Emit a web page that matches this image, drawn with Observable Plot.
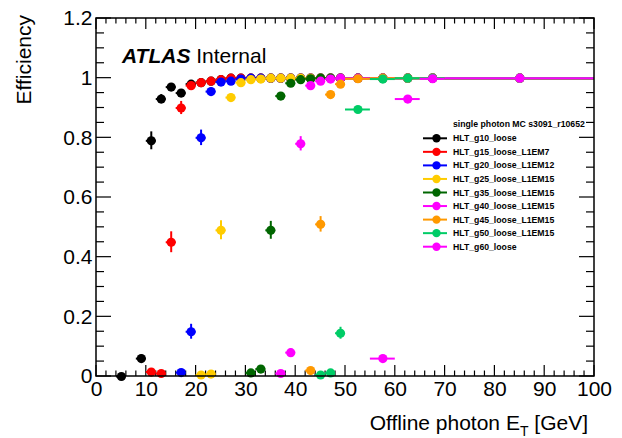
<!DOCTYPE html>
<html><head><meta charset="utf-8">
<script src="https://cdn.jsdelivr.net/npm/d3@7"></script>
<script src="https://cdn.jsdelivr.net/npm/@observablehq/plot@0.6"></script>
<style>
body{margin:0;background:#fff;}
#chart svg{display:block;}
</style></head><body><div id="chart"></div>
<script>
// Bin centres and half-widths (GeV)
const xCenters = [1,3,5,7,9,11,13,15,17,19,21,23,25,27,29,31,33,35,37,39,41,43,45,47,49,52.5,57.5,62.5,67.5,85];
const xHalf = [1,1,1,1,1,1,1,1,1,1,1,1,1,1,1,1,1,1,1,1,1,1,1,1,1,2.5,2.5,2.5,2.5,15];

const names = ["HLT_g10_loose","HLT_g15_loose_L1EM7","HLT_g20_loose_L1EM12","HLT_g25_loose_L1EM15","HLT_g35_loose_L1EM15","HLT_g40_loose_L1EM15","HLT_g45_loose_L1EM15","HLT_g50_loose_L1EM15","HLT_g60_loose"];
const colors = ["#000000","#ff0000","#0000ff","#ffcc00","#006600","#ff00ff","#ff9900","#00cc66","#ff00ff"];
const firstBin = [2,5,8,10,15,18,21,22,26];

const eff_g10 = [0,null,0.06,0.79,0.93,0.97,0.95,0.98,0.985,0.99,0.995,1,1,1,1,1,1,1,1,1,1,1,1,1,1,1,1,1];
const err_g10 = [0.003,null,0.012,0.03,0.015,0.01,0.01,0.006,0.005,0.004,0.003,0,0,0,0,0,0,0,0,0,0,0,0,0,0,0,0,0];
const eff_g15 = [0.015,0.01,0.45,0.90,0.975,0.985,0.99,0.995,1,1,1,1,1,1,1,1,1,1,1,1,1,1,1,1,1];
const err_g15 = [0.005,0.004,0.035,0.022,0.01,0.007,0.005,0.003,0,0,0,0,0,0,0,0,0,0,0,0,0,0,0,0,0];
const eff_g20 = [0.013,0.15,0.80,0.955,0.987,0.99,0.997,1,1,1,1,1,1,1,1,1,1,1,1,1,1,1];
const err_g20 = [0.005,0.025,0.026,0.012,0.006,0.005,0.003,0,0,0,0,0,0,0,0,0,0,0,0,0,0,0];
const eff_g25 = [0.005,0.008,0.49,0.935,0.985,0.995,0.997,1,1,1,1,1,1,1,1,1,1,1,1,1];
const err_g25 = [0.003,0.004,0.032,0.012,0.006,0.004,0.003,0,0,0,0,0,0,0,0,0,0,0,0,0];
const eff_g35 = [0.012,0.025,0.49,0.94,0.983,0.995,0.998,1,1,1,1,1,1,1,1];
const err_g35 = [0.005,0.007,0.03,0.012,0.006,0.004,0.003,0,0,0,0,0,0,0,0];
const eff_g40 = [0.01,0.08,0.78,0.975,0.99,0.997,1,1,1,1,1,1];
const err_g40 = [0.004,0.012,0.024,0.008,0.005,0.003,0,0,0,0,0,0];
const eff_g45 = [0.02,0.51,0.945,0.98,0.998,1,1,1,1];
const err_g45 = [0.006,0.026,0.01,0.006,0.002,0,0,0,0];
const eff_g50 = [0.005,0.012,0.145,0.895,0.997,1,1,1];
const err_g50 = [0.003,0.005,0.02,0.008,0.003,0,0,0];
const eff_g60 = [0.06,0.93,0.998,1];
const err_g60 = [0.008,0.01,0.002,0];

const effs = [eff_g10,eff_g15,eff_g20,eff_g25,eff_g35,eff_g40,eff_g45,eff_g50,eff_g60];
const errs = [err_g10,err_g15,err_g20,err_g25,err_g35,err_g40,err_g45,err_g50,err_g60];

const xMajor = [0,10,20,30,40,50,60,70,80,90,100];
const xMinor = d3.range(0, 100.001, 2);
const yMajor = [0,0.2,0.4,0.6,0.8,1,1.2];
const yMinor = d3.range(0, 1.2001, 0.05);

const legendHeader = "single photon MC s3091_r10652";

const rows = [];
names.forEach((name, s) => {
  effs[s].forEach((y, j) => {
    if (y == null) return;
    const b = firstBin[s] + j;
    const e = errs[s][j] || 0;
    rows.push({s, series: name, x: xCenters[b], xlo: xCenters[b] - xHalf[b], xhi: xCenters[b] + xHalf[b],
      y, ylo: Math.max(0, y - e), yhi: Math.min(1, y + e)});
  });
});

const FONT = "'Liberation Sans', Arial, Helvetica, sans-serif";

const seriesMarks = names.flatMap((name, s) => {
  const d = rows.filter(r => r.s === s);
  return [
    Plot.ruleY(d, {y: "y", x1: "xlo", x2: "xhi", stroke: colors[s], strokeWidth: 2}),
    Plot.ruleX(d, {x: "x", y1: "ylo", y2: "yhi", stroke: colors[s], strokeWidth: 2}),
    Plot.dot(d, {x: "x", y: "y", r: 4.6, fill: colors[s], stroke: "none"})
  ];
});

const chart = Plot.plot({
  width: 622, height: 438,
  marginLeft: 96, marginRight: 28, marginTop: 18, marginBottom: 62,
  style: {fontFamily: FONT, background: "#fff", color: "#000"},
  x: {domain: [0, 100]},
  y: {domain: [0, 1.2]},
  marks: [
    Plot.axisX({ticks: xMajor, tickSize: 0, tickPadding: 5, fontSize: 21, label: null, tickFormat: d => String(d)}),
    Plot.axisY({ticks: yMajor, tickSize: 0, tickPadding: 4, fontSize: 21, label: null, tickFormat: d => String(+d.toFixed(1))}),
    ...seriesMarks
  ]
});

document.getElementById("chart").appendChild(chart);
const svg = d3.select(chart);
const sx = chart.scale("x"), sy = chart.scale("y");
const X = v => sx.apply(v), Y = v => sy.apply(v);
const x0 = X(0), x1 = X(100), y0 = Y(0), y1 = Y(1.2);

// inward ticks on all four sides, from the plot's own scales
const tg = svg.insert("g", ":first-child").attr("stroke", "#000").attr("stroke-width", 1.2);
const tick = (xa, ya, xb, yb) => tg.append("line").attr("x1", xa).attr("y1", ya).attr("x2", xb).attr("y2", yb);
xMinor.forEach(v => { const L = xMajor.includes(Math.round(v)) ? 11 : 5.5; tick(X(v), y0, X(v), y0 - L); tick(X(v), y1, X(v), y1 + L); });
yMinor.forEach(v => { const isMaj = yMajor.some(m => Math.abs(m - v) < 1e-6); const L = isMaj ? 15 : 8; tick(x0, Y(v), x0 + L, Y(v)); tick(x1, Y(v), x1 - L, Y(v)); });
svg.append("rect").attr("x", x0).attr("y", y1).attr("width", x1 - x0).attr("height", y0 - y1)
  .attr("fill", "none").attr("stroke", "#000").attr("stroke-width", 1.5);

// ATLAS label
const atl = svg.append("text").attr("x", 122).attr("y", 63).attr("text-anchor", "start")
  .attr("font-family", FONT).attr("font-size", 21).attr("fill", "#000");
atl.append("tspan").attr("font-weight", "bold").attr("font-style", "italic").text("ATLAS");
atl.append("tspan").text(" Internal");

// Axis titles
const xt = svg.append("text").attr("x", 588).attr("y", 430).attr("text-anchor", "end")
  .attr("font-family", FONT).attr("font-size", 21).attr("fill", "#000");
xt.append("tspan").text("Offline photon E");
xt.append("tspan").attr("font-size", 14).attr("dy", 6).text("T");
xt.append("tspan").attr("dy", -6).text(" [GeV]");

svg.append("text").attr("transform", "translate(31,15) rotate(-90)").attr("text-anchor", "end")
  .attr("font-family", FONT).attr("font-size", 21).attr("fill", "#000").text("Efficiency");

// Legend
const lg = svg.append("g").attr("font-family", FONT).attr("font-size", 8.7).attr("font-weight", "bold").attr("text-anchor", "start");
lg.append("text").attr("x", 453).attr("y", 124).attr("dy", "0.35em").text(legendHeader);
names.forEach((name, i) => {
  const y = 138.3 + i * 13.55;
  lg.append("line").attr("x1", 423).attr("x2", 447).attr("y1", y).attr("y2", y)
    .attr("stroke", colors[i]).attr("stroke-width", 2);
  lg.append("circle").attr("cx", 436.5).attr("cy", y).attr("r", 4.2).attr("fill", colors[i]);
  lg.append("text").attr("x", 453).attr("y", y).attr("dy", "0.35em").text(name);
});
</script></body></html>
